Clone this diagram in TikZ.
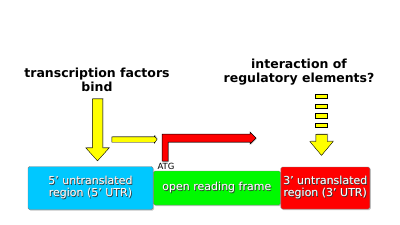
\documentclass[tikz,border=0pt]{standalone}
\usepackage{fontspec}
\setmainfont{DejaVu Sans}
\usetikzlibrary{positioning, shapes.arrows, shadows}

\definecolor{utrblue}{RGB}{0,200,255}
\definecolor{orfgreen}{RGB}{0,250,0}
\definecolor{utrred}{RGB}{255,0,0}
\definecolor{tfyellow}{RGB}{255,255,0}

% white text with a dark shadow
\newcommand{\shtext}[1]{\leavevmode%
  \rlap{\hspace{0.7pt}\raisebox{-0.7pt}{\textcolor{black!80}{#1}}}%
  \rlap{\hspace{-0.3pt}\raisebox{0.3pt}{\textcolor{black!45}{#1}}}%
  \textcolor{white}{#1}}

\tikzset{
  region/.style={draw=black!50, line width=0.4pt, rounded corners=1.5pt, inner sep=0pt,
    align=center, font=\fontsize{11}{12}\selectfont,
    drop shadow={shadow xshift=1pt, shadow yshift=-1pt, opacity=0.45}},
  blockarrow/.style={single arrow, draw=black, line width=0.4pt, fill=tfyellow,
    inner xsep=0pt, minimum width=0pt,
    drop shadow={shadow xshift=0.8pt, shadow yshift=0.8pt, opacity=0.5}},
  bigtext/.style={align=center, font=\bfseries\fontsize{12.5}{14}\selectfont},
}

\begin{document}
\begin{tikzpicture}[x=1pt, y=-1pt]

		\fill[white] (0,0) rectangle (400,225);
		\useasboundingbox (0,0) rectangle (400,225);

		% the three regions
		\node[region, fill=utrblue, minimum width=125pt, minimum height=43pt] (utr5) at (90.5,188)
			{\shtext{5’ untranslated}\\\shtext{region (5’ UTR)}};
		\node[region, fill=orfgreen, minimum width=127pt, minimum height=34pt, right=0pt of utr5] (orf)
			{\shtext{open reading frame}};
		\node[region, fill=utrred, minimum width=89pt, minimum height=42pt, right=0pt of orf] (utr3)
			{\shtext{3’ untranslated}\\\shtext{region (3’ UTR)}};

		\node[font=\fontsize{8.5}{9}\selectfont, inner sep=0pt] (atg) at (166,166) {ATG};

		% labels
		\node[bigtext] (tf) at (97,80) {transcription factors\\bind};
		\node[bigtext] (reg) at (299,72.5) {interaction of\\regulatory elements?};

		% yellow arrows
		\node[blockarrow, rotate=-90, inner ysep=5pt, single arrow head extend=6.5pt,
			single arrow tip angle=84, minimum height=62pt] (bind) at (97.5,127) {};
		\node[blockarrow, inner ysep=2.5pt, single arrow head extend=1pt,
			single arrow tip angle=110, minimum height=45pt] (signal) at (133.5,139.5) {};

		% dashed arrow from the regulatory elements
		\foreach \y in {96,106,115.5,125}
			\draw[fill=tfyellow, line width=0.4pt] (315.5,\y-2.3) rectangle (327,\y+2.3);
		\node[blockarrow, rotate=-90, inner ysep=5.5pt, single arrow head extend=6pt,
			single arrow tip angle=80, minimum height=21pt] (hint) at (321.5,141.5) {};

		% start of transcription
		\coordinate (tss) at (162,161);
		\draw[fill=utrred, line width=0.5pt, drop shadow={shadow xshift=0.8pt, shadow yshift=-0.8pt, opacity=0.5}]
			(tss) -- ++(0,-27) -- ++(88,0) -- ++(0,-2) -- ++(6,6) -- ++(-6,6) -- ++(0,-2)
			-- ++(-82,0) -- ++(0,19) -- cycle;

\end{tikzpicture}
\end{document}
